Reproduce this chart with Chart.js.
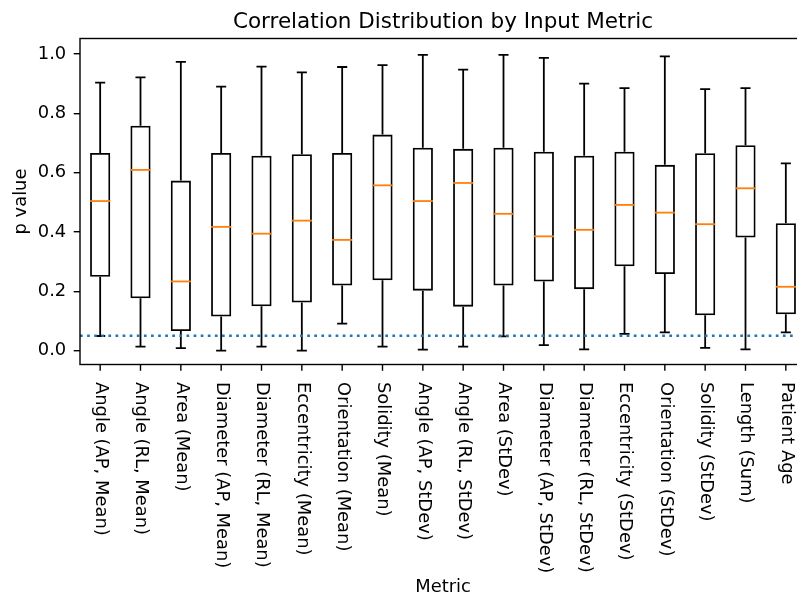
<!DOCTYPE html>
<html>
<head>
<meta charset="utf-8">
<script src="https://cdn.jsdelivr.net/npm/chart.js@4"></script>
<style>
  html, body { margin: 0; padding: 0; background: #fff; overflow: hidden; }
</style>
</head>
<body>
<canvas id="chart" width="830" height="593"></canvas>
<script>
const metrics = ['Angle (AP, Mean)', 'Angle (RL, Mean)', 'Area (Mean)', 'Diameter (AP, Mean)',
  'Diameter (RL, Mean)', 'Eccentricity (Mean)', 'Orientation (Mean)', 'Solidity (Mean)',
  'Angle (AP, StDev)', 'Angle (RL, StDev)', 'Area (StDev)', 'Diameter (AP, StDev)',
  'Diameter (RL, StDev)', 'Eccentricity (StDev)', 'Orientation (StDev)', 'Solidity (StDev)',
  'Length (Sum)', 'Patient Age'];
const whiskerLow  = [0.049, 0.013, 0.008, 0.000, 0.013, 0.000, 0.091, 0.013, 0.003, 0.013, 0.048, 0.018, 0.004, 0.056, 0.061, 0.009, 0.004, 0.061];
const q1          = [0.249, 0.176, 0.066, 0.115, 0.149, 0.162, 0.219, 0.237, 0.202, 0.148, 0.219, 0.233, 0.207, 0.284, 0.258, 0.119, 0.381, 0.122];
const median      = [0.504, 0.609, 0.233, 0.417, 0.394, 0.438, 0.373, 0.557, 0.504, 0.565, 0.461, 0.385, 0.407, 0.491, 0.465, 0.426, 0.547, 0.215];
const q3          = [0.666, 0.758, 0.573, 0.666, 0.657, 0.662, 0.666, 0.728, 0.684, 0.680, 0.684, 0.670, 0.657, 0.670, 0.626, 0.665, 0.692, 0.429];
const whiskerHigh = [0.903, 0.921, 0.973, 0.890, 0.957, 0.938, 0.956, 0.962, 0.997, 0.947, 0.997, 0.987, 0.900, 0.885, 0.992, 0.881, 0.885, 0.631];
const threshold = 0.05;
const yTicks = [0, 0.2, 0.4, 0.6, 0.8, 1.0];

const FONT = '"DejaVu Sans", sans-serif';
const TICK_SIZE = 17.9;

// whiskers, caps, medians, the threshold line and all the texts that chart.js can't place
const boxParts = {
  id: 'boxParts',
  afterDatasetsDraw(chart) {
    const {ctx, chartArea: area, scales: {x, y}} = chart;
    const bars = chart.getDatasetMeta(0).data;
    ctx.save();
    ctx.lineCap = 'butt';
    metrics.forEach((m, i) => {
      const cx = x.getPixelForValue(i);
      const half = bars[i].width / 2;
      ctx.strokeStyle = '#000';
      ctx.lineWidth = 1.8;
      ctx.beginPath();
      ctx.moveTo(cx, y.getPixelForValue(q3[i]));
      ctx.lineTo(cx, y.getPixelForValue(whiskerHigh[i]));
      ctx.moveTo(cx, y.getPixelForValue(q1[i]));
      ctx.lineTo(cx, y.getPixelForValue(whiskerLow[i]));
      ctx.moveTo(cx - half / 2, y.getPixelForValue(whiskerHigh[i]));
      ctx.lineTo(cx + half / 2, y.getPixelForValue(whiskerHigh[i]));
      ctx.moveTo(cx - half / 2, y.getPixelForValue(whiskerLow[i]));
      ctx.lineTo(cx + half / 2, y.getPixelForValue(whiskerLow[i]));
      ctx.stroke();
      ctx.strokeStyle = '#ff7f0e';
      ctx.beginPath();
      ctx.moveTo(cx - half, y.getPixelForValue(median[i]));
      ctx.lineTo(cx + half, y.getPixelForValue(median[i]));
      ctx.stroke();
    });
    // dotted threshold
    ctx.strokeStyle = '#1f77b4';
    ctx.lineWidth = 2.7;
    ctx.setLineDash([2.7, 4.4]);
    ctx.beginPath();
    ctx.moveTo(area.left, y.getPixelForValue(threshold));
    ctx.lineTo(area.right, y.getPixelForValue(threshold));
    ctx.stroke();
    ctx.restore();
  },
  afterDraw(chart) {
    const {ctx, chartArea: area, scales: {x}} = chart;
    ctx.save();
    // frame
    ctx.strokeStyle = '#000';
    ctx.lineWidth = 1.4;
    ctx.strokeRect(area.left, area.top, area.right - area.left, area.bottom - area.top);
    // x ticks + rotated labels
    ctx.fillStyle = '#000';
    ctx.font = TICK_SIZE + 'px ' + FONT;
    ctx.textAlign = 'left';
    ctx.textBaseline = 'middle';
    metrics.forEach((m, i) => {
      const cx = x.getPixelForValue(i);
      ctx.beginPath();
      ctx.moveTo(cx, area.bottom);
      ctx.lineTo(cx, area.bottom + 6.3);
      ctx.stroke();
      ctx.save();
      ctx.translate(cx + 0.5, area.bottom + 17.5);
      ctx.rotate(Math.PI / 2);
      ctx.fillText(m, 0, 0);
      ctx.restore();
    });
    // axis titles
    const midX = (area.left + area.right) / 2;
    ctx.font = '17.9px ' + FONT;
    ctx.textAlign = 'center';
    ctx.textBaseline = 'alphabetic';
    ctx.fillText('Metric', midX, 591.5);
    ctx.save();
    ctx.translate(26, (area.top + area.bottom) / 2);
    ctx.rotate(-Math.PI / 2);
    ctx.fillText('p value', 0, 0);
    ctx.restore();
    ctx.font = '21.5px ' + FONT;
    ctx.fillText('Correlation Distribution by Input Metric', midX, 28);
    ctx.restore();
  }
};

new Chart(document.getElementById('chart'), {
  type: 'bar',
  data: {
    labels: metrics,
    datasets: [{
      data: metrics.map((m, i) => [q1[i], q3[i]]),
      backgroundColor: 'rgba(0,0,0,0)',
      borderColor: '#000',
      borderWidth: 1.8,
      borderSkipped: false,
      categoryPercentage: 1,
      barPercentage: 0.5
    }]
  },
  options: {
    responsive: false,
    animation: false,
    events: [],
    layout: { padding: { left: 0, right: 24, top: 38.5, bottom: 0 } },
    plugins: { legend: { display: false }, title: { display: false }, tooltip: { enabled: false } },
    scales: {
      x: {
        offset: true,
        grid: { display: false },
        border: { display: false },
        ticks: { display: false },
        afterFit: s => { s.height = 228.5; }
      },
      y: {
        min: -0.047,
        max: 1.052,
        grid: { drawOnChartArea: false, drawTicks: true, tickLength: 6.3, color: '#000', lineWidth: 1.4 },
        border: { display: false },
        afterBuildTicks: s => { s.ticks = yTicks.map(v => ({ value: v })); },
        ticks: {
          padding: 7.5,
          color: '#000',
          font: { family: FONT, size: TICK_SIZE },
          callback: v => v.toFixed(1)
        },
        afterFit: s => { s.width = 80; }
      }
    }
  },
  plugins: [boxParts]
});
</script>
</body>
</html>
